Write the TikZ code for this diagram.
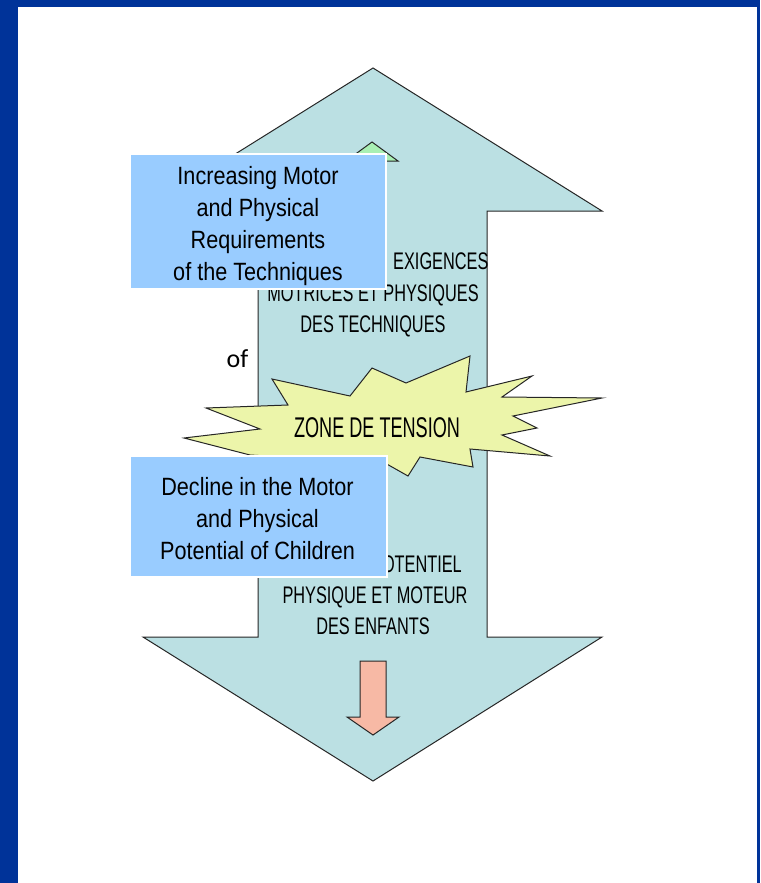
\documentclass[tikz,border=0pt]{standalone}
\usepackage{fontspec}
\setmainfont{Liberation Sans}
\newfontfamily\engfont{Liberation Sans}[FakeStretch=0.865]
\newfontfamily\frfont{Liberation Sans}[FakeStretch=0.68]
\newfontfamily\zonefont{Liberation Sans}[FakeStretch=0.635]
\newfontfamily\offont{Carlito}
\definecolor{frameblue}{RGB}{0,51,153}
\definecolor{arrowteal}{RGB}{187,224,227}
\definecolor{boxblue}{RGB}{153,204,255}
\definecolor{staryellow}{RGB}{236,245,170}
\definecolor{salmon}{RGB}{247,185,165}
\definecolor{lightgreen}{RGB}{169,240,180}
\tikzset{
  outlined/.style={draw=black!85, line width=1pt, line join=miter},
  infobox/.style={draw=white, line width=2pt, fill=boxblue, inner sep=0pt},
  boxtext/.style={inner sep=0pt, align=center, font=\engfont\fontsize{25}{32}\selectfont},
  frtext/.style={inner sep=0pt, font=\frfont\fontsize{24}{31}\selectfont},
  zonetext/.style={inner sep=0pt, font=\zonefont\fontsize{28.5}{32}\selectfont},
}
\begin{document}
\begin{tikzpicture}[x=1pt,y=-1pt]
\useasboundingbox (0,0) rectangle (760,883);
% frame
\fill[frameblue] (0,0) rectangle (760,883);
\fill[white] (18,7) rectangle (757,883);
% big double arrow
\filldraw[outlined, fill=arrowteal] (373,68) -- (602,211) -- (487,211) -- (487,637)
  -- (602,637) -- (373,781) -- (143,637) -- (258,637) -- (258,211) -- (144,211) -- cycle;
% small green up arrow (mostly hidden)
\filldraw[outlined, fill=lightgreen] (372,142) -- (398,161) -- (385,161) -- (385,200)
  -- (360,200) -- (360,161) -- (346,161) -- cycle;
% small salmon down arrow
\filldraw[outlined, fill=salmon] (360,661) -- (386,661) -- (386,717) -- (399,717)
  -- (373,735) -- (347,717) -- (360,717) -- cycle;
% french texts
\node[frtext, anchor=base west] (exig) at (393,269) {EXIGENCES};
\node[frtext, anchor=base] (mot) at (373,301) {MOTRICES ET PHYSIQUES};
\node[frtext, anchor=base] (tech) at (373,332) {DES TECHNIQUES};
\node[frtext, anchor=base east] (pot) at (462,572) {OTENTIEL};
\node[frtext, anchor=base] (phys) at (375,603) {PHYSIQUE ET MOTEUR};
\node[frtext, anchor=base] (enf) at (373,634) {DES ENFANTS};
% starburst
\filldraw[outlined, fill=staryellow] (272,379) -- (350,396) -- (372,368) -- (406,383)
  -- (470,356) -- (466,392) -- (532,376) -- (502,397) -- (602,398) -- (513,416)
  -- (537,428) -- (502,435) -- (550,456) -- (470,449) -- (473,467) -- (420,457)
  -- (408,476) -- (385,463) -- (330,488) -- (300,458) -- (250,455) -- (184,438)
  -- (260,429) -- (206,408) -- (288,405) -- cycle;
\node[zonetext, anchor=base] (zone) at (377,437) {ZONE DE TENSION};
% english boxes
\node[infobox, minimum width=256pt, minimum height=135pt] (upbox) at (258,221.5) {};
\node[boxtext] (uptext) at ([yshift=-4.5pt]upbox.center)
  {Increasing Motor\\and Physical\\Requirements\\of the Techniques};
\node[infobox, minimum width=257pt, minimum height=121pt] (lowbox) at (258.5,516.5) {};
\node[boxtext] (lowtext) at ([xshift=-1pt,yshift=-2pt]lowbox.center)
  {Decline in the Motor\\and Physical\\Potential of Children};
\node[inner sep=0pt, anchor=base, font=\offont\fontsize{26}{30}\selectfont] (of) at (237.5,367) {of};
\end{tikzpicture}
\end{document}
